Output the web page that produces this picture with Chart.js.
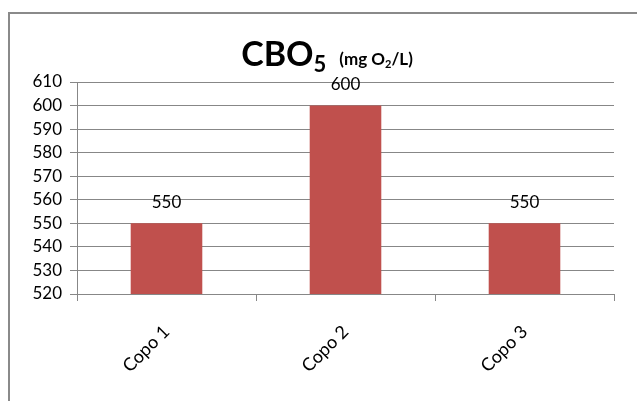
<!DOCTYPE html>
<html>
<head>
<meta charset="utf-8">
<script src="https://cdn.jsdelivr.net/npm/chart.js@4.4.1/dist/chart.umd.min.js"></script>
<style>
  html, body { margin: 0; padding: 0; background: #fff; }
  #wrap { width: 637px; height: 401px; position: relative; }
</style>
</head>
<body>
<div id="wrap"><canvas id="c" width="637" height="401"></canvas></div>
<script>
// Chart data
const categories = ['Copo 1', 'Copo 2', 'Copo 3'];
const cboValues = [550, 600, 550];
const yMin = 520;
const yMax = 610;
const yStep = 10;

const FONT = 'Lato, "Open Sans", sans-serif';
const GRID = '#878787';

// Outer frame of the chart object (top and left edges)
const framePlugin = {
  id: 'frame',
  beforeDraw(chart) {
    const ctx = chart.ctx;
    ctx.save();
    ctx.strokeStyle = '#8a8a8a';
    ctx.lineWidth = 2;
    ctx.beginPath();
    ctx.moveTo(9, 401);
    ctx.lineTo(9, 13);
    ctx.lineTo(637, 13);
    ctx.stroke();
    ctx.restore();
  }
};

// Title with subscripts: CBO5 (mg O2/L)
const titlePlugin = {
  id: 'subTitle',
  afterDraw(chart) {
    const ctx = chart.ctx;
    ctx.save();
    ctx.fillStyle = '#000';
    ctx.textBaseline = 'alphabetic';
    ctx.textAlign = 'left';
    const parts = [
      { t: 'CBO', f: 'bold 34px ' + FONT, dy: 0 },
      { t: '5', f: 'bold 22px ' + FONT, dy: 6 },
      { t: '   ', f: '17px ' + FONT, dy: 0 },
      { t: '(mg O', f: 'bold 17px ' + FONT, dy: -1 },
      { t: '2', f: 'bold 11px ' + FONT, dy: 2 },
      { t: '/L)', f: 'bold 17px ' + FONT, dy: -1 }
    ];
    let total = 0;
    parts.forEach(p => { ctx.font = p.f; p.w = ctx.measureText(p.t).width; total += p.w; });
    let x = 327 - total / 2;
    const base = 66;
    parts.forEach(p => {
      ctx.font = p.f;
      ctx.fillText(p.t, x, base + p.dy);
      x += p.w;
    });
    ctx.restore();
  }
};

// Value labels above each bar
const valueLabels = {
  id: 'valueLabels',
  afterDatasetsDraw(chart) {
    const ctx = chart.ctx;
    const meta = chart.getDatasetMeta(0);
    const yScale = chart.scales.y;
    ctx.save();
    ctx.font = '17px ' + FONT;
    ctx.fillStyle = '#000';
    ctx.textAlign = 'center';
    ctx.textBaseline = 'middle';
    meta.data.forEach((bar, i) => {
      const v = chart.data.datasets[0].data[i];
      ctx.fillText(String(v), bar.x, yScale.getPixelForValue(v) - 21);
    });
    ctx.restore();
  }
};

new Chart(document.getElementById('c'), {
  type: 'bar',
  data: {
    labels: categories,
    datasets: [{
      data: cboValues,
      backgroundColor: '#C0504D',
      borderWidth: 0,
      categoryPercentage: 0.8,
      barPercentage: 0.5
    }]
  },
  options: {
    responsive: false,
    animation: false,
    devicePixelRatio: 1,
    layout: { padding: { left: 10, right: 23, top: 82, bottom: 0 } },
    plugins: {
      legend: { display: false },
      title: { display: false },
      tooltip: { enabled: false }
    },
    scales: {
      x: {
        grid: { display: true, offset: true, drawOnChartArea: false, tickLength: 7, color: GRID },
        border: { display: true, color: GRID, width: 1 },
        ticks: {
          font: { family: FONT, size: 18 },
          color: '#000',
          maxRotation: 45,
          minRotation: 45,
          padding: 20
        },
        afterFit(scale) { scale.height = 107; }
      },
      y: {
        min: yMin,
        max: yMax,
        grid: { color: GRID, tickLength: 7 },
        border: { display: true, color: GRID, width: 1 },
        ticks: {
          stepSize: yStep,
          font: { family: FONT, size: 17 },
          color: '#000',
          padding: 8
        },
        afterFit(scale) { scale.width = 67; }
      }
    }
  },
  plugins: [framePlugin, titlePlugin, valueLabels]
});
</script>
</body>
</html>
